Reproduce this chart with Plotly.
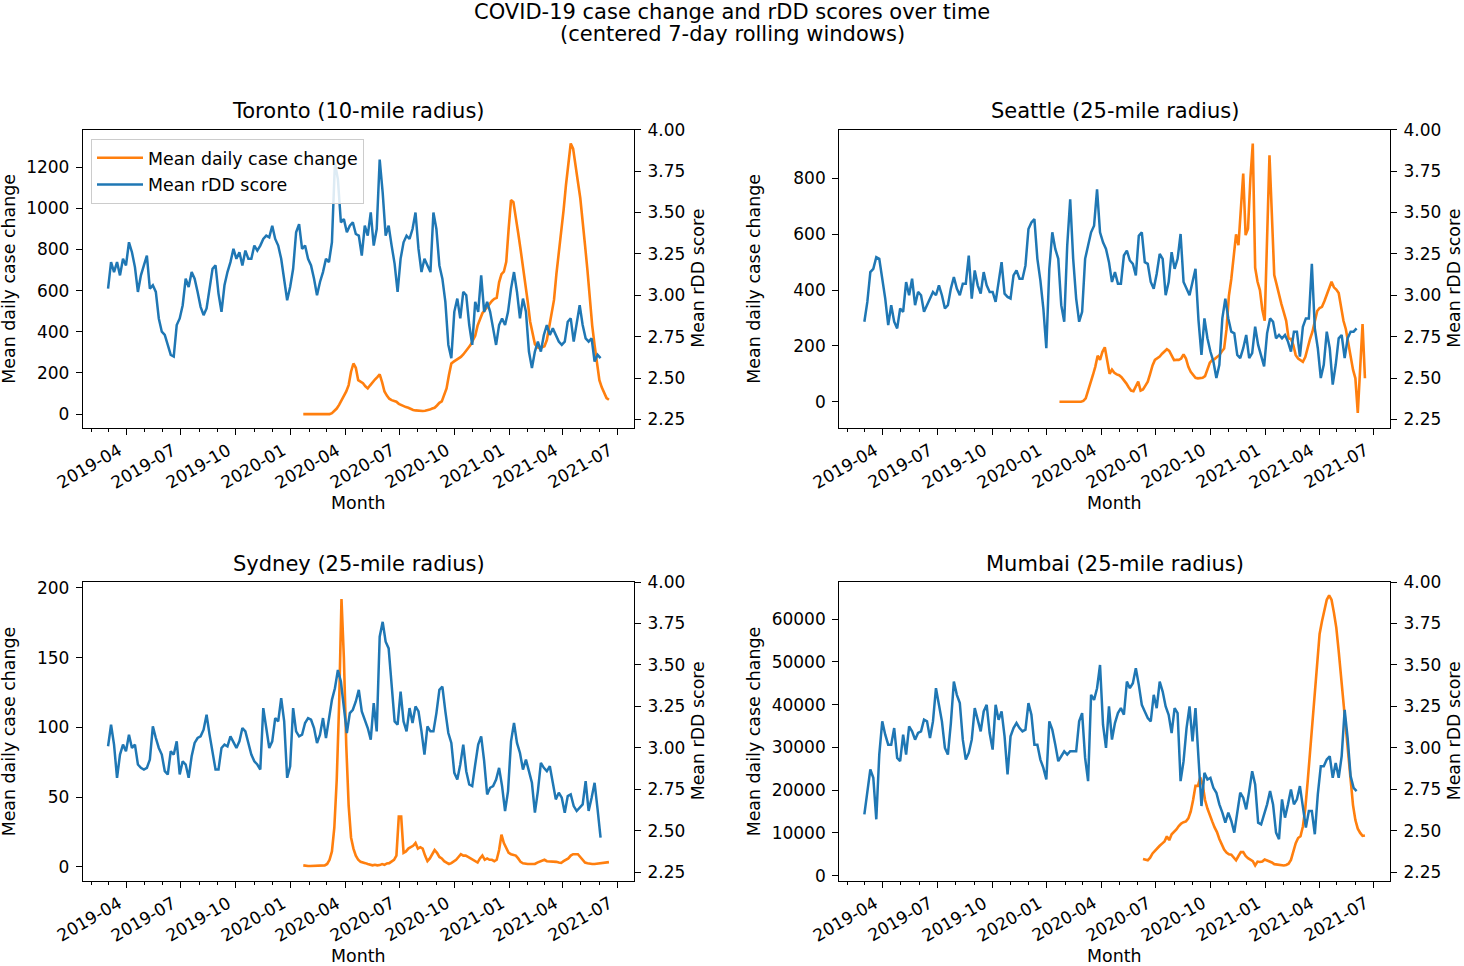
import pandas as pd
import plotly.graph_objects as go

# rDD score, one reading every 5 days (2019-03-01 .. 2021-06-03)
rdd_dates = pd.date_range("2019-03-01", periods=166, freq="5D")
# case change, one reading every 4 days (2020-01-22 .. 2021-06-17)
case_dates = pd.date_range("2020-01-22", periods=129, freq="4D")
mumbai_case_dates = case_dates[35:]

# 四半期ごとの目盛り
month_ticks = pd.date_range("2019-04-01", "2021-07-01", freq="QS")

toronto_rdd = [
    3.04, 3.20, 3.14, 3.20, 3.12, 3.22, 3.18, 3.32, 3.26, 3.17,
    3.02, 3.12, 3.18, 3.24, 3.04, 3.06, 3.02, 2.86, 2.78, 2.76,
    2.70, 2.64, 2.63, 2.82, 2.86, 2.94, 3.10, 3.05, 3.14, 3.10,
    3.02, 2.93, 2.88, 2.92, 3.04, 3.16, 3.18, 3.01, 2.90, 3.06,
    3.14, 3.20, 3.28, 3.22, 3.26, 3.18, 3.27, 3.22, 3.22, 3.30,
    3.27, 3.30, 3.34, 3.36, 3.35, 3.42, 3.34, 3.30, 3.22, 3.10,
    2.97, 3.05, 3.16, 3.38, 3.43, 3.28, 3.30, 3.22, 3.18, 3.10,
    3.00, 3.08, 3.14, 3.22, 3.20, 3.32, 3.80, 3.70, 3.44, 3.46,
    3.38, 3.42, 3.44, 3.37, 3.36, 3.24, 3.42, 3.36, 3.50, 3.30,
    3.40, 3.82, 3.62, 3.36, 3.42, 3.30, 3.19, 3.02, 3.22, 3.32,
    3.36, 3.34, 3.40, 3.50, 3.28, 3.14, 3.22, 3.18, 3.14, 3.50,
    3.40, 3.18, 3.10, 2.96, 2.70, 2.62, 2.90, 2.98, 2.86, 3.02,
    3.00, 2.82, 2.70, 2.96, 2.90, 3.12, 2.90, 2.96, 2.90, 2.80,
    2.70, 2.82, 2.86, 2.82, 2.90, 3.04, 3.14, 3.02, 2.86, 2.98,
    2.90, 2.66, 2.56, 2.66, 2.72, 2.66, 2.76, 2.82, 2.76, 2.80,
    2.76, 2.72, 2.70, 2.72, 2.84, 2.86, 2.72, 2.82, 2.94, 2.82,
    2.74, 2.72, 2.74, 2.60, 2.64, 2.62,
]
toronto_cases = [
    0, 0, 0, 0, 0, 0, 0, 0, 0, 0, 0, 0,
    5, 15, 27, 45, 65, 84, 110, 141, 206, 246,
    225, 165, 157, 150, 135, 125, 140, 157, 168, 180,
    193, 155, 110, 90, 75, 68, 63, 60, 50, 44,
    38, 34, 31, 25, 20, 18, 16, 15, 15, 16,
    18, 22, 27, 31, 42, 55, 62, 90, 125, 190,
    246, 255, 262, 270, 278, 290, 303, 320, 335, 355,
    380, 430, 465, 490, 505, 520, 540, 550, 560, 565,
    640, 680, 692, 740, 900, 1040, 1030, 944, 880, 800,
    720, 620, 546, 450, 390, 340, 325, 320, 325, 330,
    360, 420, 480, 555, 680, 780, 880, 990, 1113, 1230,
    1315, 1290, 1200, 1129, 1050, 950, 820, 700, 560, 430,
    335, 240, 165, 130, 100, 78, 70,
]

seattle_rdd = [
    2.84, 2.96, 3.14, 3.16, 3.23, 3.22, 3.10, 2.98, 2.82, 2.94,
    2.84, 2.80, 2.92, 2.90, 3.08, 3.00, 3.10, 2.94, 3.02, 3.00,
    2.90, 2.94, 2.98, 3.02, 3.00, 3.06, 3.00, 2.92, 2.94, 3.04,
    3.11, 3.04, 3.00, 3.07, 3.07, 3.24, 2.98, 3.15, 3.06, 3.01,
    3.14, 3.06, 3.02, 3.02, 2.96, 3.07, 3.20, 3.01, 2.99, 2.98,
    3.12, 3.15, 3.10, 3.10, 3.18, 3.40, 3.44, 3.46, 3.22, 3.09,
    2.92, 2.68, 3.16, 3.38, 3.28, 3.22, 2.94, 2.84, 3.30, 3.58,
    3.22, 2.98, 2.84, 2.90, 3.22, 3.30, 3.38, 3.42, 3.64, 3.38,
    3.32, 3.28, 3.20, 3.08, 3.14, 3.07, 3.07, 3.24, 3.27, 3.21,
    3.19, 3.12, 3.36, 3.38, 3.20, 3.19, 3.08, 3.04, 3.13, 3.25,
    3.22, 3.00, 3.08, 3.26, 3.16, 3.22, 3.37, 3.08, 3.04, 3.00,
    3.08, 3.16, 2.85, 2.64, 2.86, 2.74, 2.66, 2.60, 2.50, 2.58,
    2.86, 2.98, 2.86, 2.78, 2.77, 2.64, 2.62, 2.68, 2.76, 2.62,
    2.65, 2.81, 2.70, 2.64, 2.57, 2.77, 2.86, 2.84, 2.74, 2.76,
    2.74, 2.76, 2.72, 2.66, 2.78, 2.78, 2.63, 2.81, 2.86, 2.86,
    3.19, 2.80, 2.68, 2.50, 2.58, 2.78, 2.68, 2.46, 2.58, 2.74,
    2.76, 2.62, 2.74, 2.78, 2.78, 2.80,
]
seattle_cases = [
    0, 0, 0, 0, 0, 0, 0, 0, 0, 0,
    3, 12, 40, 72, 95, 125, 165, 150, 179, 195,
    145, 100, 115, 104, 98, 95, 88, 78, 66, 52,
    40, 38, 58, 72, 40, 44, 58, 72, 100, 130,
    150, 155, 162, 172, 179, 188, 182, 165, 149, 150,
    150, 155, 170, 155, 125, 107, 95, 86, 84, 84,
    86, 92, 115, 140, 149, 153, 160, 167, 180, 191,
    260, 380, 440, 530, 600, 561, 692, 818, 597, 620,
    800, 925, 480, 430, 400, 330, 290, 640, 883, 670,
    454, 420, 382, 350, 320, 290, 227, 225, 203, 167,
    155, 148, 143, 160, 195, 225, 251, 290, 325, 336,
    340, 360, 385, 405, 430, 410, 402, 390, 334, 290,
    260, 210, 155, 115, 84, -40, 120, 278, 84,
]

sydney_rdd = [
    3.01, 3.14, 3.02, 2.82, 2.96, 3.02, 2.98, 3.08, 3.00, 3.02,
    2.90, 2.88, 2.87, 2.88, 2.93, 3.13, 3.06, 3.00, 2.96, 2.86,
    2.84, 2.98, 2.96, 3.04, 2.84, 2.92, 2.90, 2.82, 2.95, 3.03,
    3.06, 3.07, 3.11, 3.20, 3.08, 2.97, 2.87, 2.87, 3.00, 3.02,
    3.01, 3.07, 3.03, 3.00, 3.04, 3.12, 3.10, 3.02, 2.96, 2.92,
    2.90, 2.87, 3.24, 3.12, 3.00, 3.04, 3.18, 3.16, 3.30, 3.16,
    2.82, 2.89, 3.24, 3.10, 3.07, 3.08, 3.15, 3.18, 3.17, 3.12,
    3.03, 3.08, 3.18, 3.06, 3.18, 3.29, 3.36, 3.47, 3.40, 3.26,
    3.09, 3.21, 3.23, 3.28, 3.35, 3.22, 3.17, 3.12, 3.05, 3.27,
    3.10, 3.67, 3.76, 3.64, 3.60, 3.35, 3.16, 3.14, 3.34, 3.16,
    3.10, 3.24, 3.15, 3.25, 3.22, 3.10, 2.96, 3.13, 3.10, 3.10,
    3.21, 3.35, 3.37, 3.22, 3.09, 3.03, 2.85, 2.81, 2.90, 3.02,
    2.86, 2.78, 2.77, 2.90, 3.02, 3.07, 2.92, 2.72, 2.76, 2.77,
    2.81, 2.88, 2.77, 2.62, 2.74, 3.04, 3.15, 3.03, 2.97, 2.87,
    2.93, 2.86, 2.79, 2.61, 2.74, 2.91, 2.88, 2.86, 2.89, 2.79,
    2.69, 2.73, 2.70, 2.61, 2.71, 2.72, 2.65, 2.62, 2.64, 2.66,
    2.80, 2.62, 2.70, 2.79, 2.63, 2.46,
]
sydney_cases = [
    1, 0.5, 0.5, 0.5, 0.5, 0.5, 0.5, 0.5, 0.5, 1,
    2, 5, 11, 28, 62, 116, 192, 150, 87, 44,
    21, 13, 8, 5, 3.5, 2.8, 2.6, 2, 1.5, 1,
    1.4, 1, 1.2, 1.9, 1.4, 2.4, 2.6, 3.8, 5, 8,
    36, 36, 10, 11, 13, 14, 15, 17, 13, 14,
    13, 8, 4, 6, 9, 12, 10, 7, 6, 4,
    3, 2, 2.6, 3.5, 5, 7, 9, 8, 8, 7,
    6, 5, 4, 3, 6, 8, 5, 6, 5, 5,
    4, 5, 12, 23, 17, 13, 10, 9, 8.5, 8,
    6, 3.5, 2.5, 2, 2, 2, 2, 2, 3, 3.5,
    4.5, 5, 4, 4, 4, 4, 3.5, 3, 2.7, 4,
    5, 6, 8, 9, 9, 9, 7, 5, 3, 2.5,
    2, 2, 2, 2.2, 2.6, 2.6, 3, 3.3, 3.3,
]

mumbai_rdd = [
    2.60, 2.74, 2.87, 2.82, 2.57, 2.96, 3.16, 3.08, 3.02, 3.02,
    3.12, 2.94, 2.92, 3.08, 2.96, 3.13, 3.10, 3.05, 3.09, 3.10,
    3.17, 3.16, 3.06, 3.16, 3.36, 3.26, 3.16, 3.00, 2.96, 3.15,
    3.40, 3.32, 3.27, 3.05, 2.93, 2.97, 3.05, 3.24, 3.16, 3.10,
    3.22, 3.26, 3.09, 2.99, 3.26, 3.17, 3.22, 3.07, 2.84, 3.07,
    3.12, 3.15, 3.12, 3.10, 3.11, 3.27, 3.20, 3.02, 3.02, 2.93,
    2.88, 2.81, 3.16, 3.11, 3.02, 2.92, 2.95, 2.98, 2.96, 2.98,
    2.98, 2.98, 3.16, 3.21, 2.94, 2.80, 3.32, 3.29, 3.36, 3.50,
    3.14, 3.00, 3.25, 3.05, 3.15, 3.21, 3.24, 3.20, 3.40, 3.36,
    3.39, 3.48, 3.38, 3.26, 3.22, 3.18, 3.16, 3.32, 3.24, 3.40,
    3.34, 3.25, 3.20, 3.09, 3.24, 3.21, 2.80, 2.92, 3.12, 3.25,
    3.04, 3.24, 2.94, 2.65, 2.85, 2.81, 2.82, 2.76, 2.73, 2.66,
    2.61, 2.55, 2.61, 2.56, 2.49, 2.61, 2.73, 2.70, 2.63, 2.74,
    2.86, 2.78, 2.55, 2.54, 2.60, 2.66, 2.74, 2.66, 2.49, 2.45,
    2.69, 2.58, 2.66, 2.75, 2.66, 2.69, 2.77, 2.63, 2.52, 2.62,
    2.62, 2.48, 2.72, 2.89, 2.89, 2.93, 2.95, 2.82, 2.91, 2.82,
    2.95, 3.23, 3.06, 2.83, 2.76, 2.74,
]
mumbai_cases = [
    3900, 3800, 3600, 4200, 5200, 5800, 6500, 7000, 7500, 8000,
    9200, 8300, 9700, 10200, 10800, 11600, 12200, 12500, 12700, 13400,
    15000, 17700, 21000, 21000, 23000, 21300, 17700, 15700, 14000, 12700,
    11300, 10200, 8600, 7200, 6100, 5400, 5000, 4900, 4200, 3600,
    4600, 5500, 5500, 4600, 4100, 3800, 3400, 2400, 3300, 3200,
    3300, 3800, 3600, 3300, 3100, 2700, 2600, 2500, 2400, 2400,
    2500, 2800, 3700, 6000, 7600, 8800, 9200, 11500, 15700, 22000,
    29000, 36000, 43000, 51000, 56500, 59500, 62000, 64500, 65500, 64500,
    61500, 58000, 52500, 46500, 40000, 33500, 27000, 21000, 16500, 13000,
    11000, 10000, 9300, 9400,
]

rdd_ticks = [2.25, 2.50, 2.75, 3.00, 3.25, 3.50, 3.75, 4.00]

BLUE = "#1f77b4"
ORANGE = "#ff7f0e"
W, H = 1464, 966
FONT = "DejaVu Sans"
TICK_SIZE = 17
LABEL_SIZE = 17.4
TITLE_SIZE = 21


def px_x(x):
    return x / W


def px_y(y):
    return 1 - y / H


def axis_style():
    return dict(
        showline=True, linecolor="black", linewidth=1.3,
        ticks="outside", ticklen=6, tickwidth=1.3, tickcolor="black",
        ticklabelstandoff=3, automargin=False,
        showgrid=False, zeroline=False,
        tickfont=dict(family=FONT, size=TICK_SIZE, color="black"),
    )


def add_panel(fig, n, title, cases, c_dates, rdd, case_ticks, case_range,
              box, ylab_x, legend=False):
    """1つの都市のパネル（左: 症例数, 右: rDDスコア）"""
    x0, y0, x1, y1 = box
    xa = "x" if n == 1 else f"x{n}"
    yl = "y" if n == 1 else f"y{2 * n - 1}"
    yr = f"y{2 * n}"

    fig.add_trace(go.Scatter(
        x=c_dates, y=cases, mode="lines", xaxis=xa, yaxis=yl,
        line=dict(color=ORANGE, width=2.6), name="Mean daily case change",
        showlegend=legend, legendgroup="cases",
    ))
    fig.add_trace(go.Scatter(
        x=rdd_dates, y=rdd, mode="lines", xaxis=xa, yaxis=yr,
        line=dict(color=BLUE, width=2.5), name="Mean rDD score",
        showlegend=legend, legendgroup="rdd",
    ))

    xkey = "xaxis" if n == 1 else f"xaxis{n}"
    ylkey = "yaxis" if n == 1 else f"yaxis{2 * n - 1}"
    yrkey = f"yaxis{2 * n}"

    fig.layout[xkey] = dict(
        axis_style(), domain=[px_x(x0), px_x(x1)], anchor=yl, type="date",
        range=["2019-01-18", "2021-07-29"], mirror=True,
        tickmode="array", tickvals=month_ticks, showticklabels=False,
        minor=dict(dtick="M1", tick0="2019-01-01", ticks="outside",
                   ticklen=3.5, tickwidth=1.1, tickcolor="black",
                   showgrid=False),
    )
    fig.layout[ylkey] = dict(
        axis_style(), domain=[px_y(y1), px_y(y0)], anchor=xa,
        range=case_range, tickmode="array", tickvals=case_ticks,
        tickformat="d",
    )
    fig.layout[yrkey] = dict(
        axis_style(), domain=[px_y(y1), px_y(y0)], anchor=xa,
        overlaying=yl, side="right", range=[2.2, 4.0],
        tickmode="array", tickvals=rdd_ticks,
        ticktext=[f"{t:.2f}" for t in rdd_ticks],
    )

    # 斜めの日付ラベル（右端を目盛りに揃える）
    for t in month_ticks:
        fig.add_annotation(
            x=t, y=px_y(y1 + 11), xref=xa, yref="paper",
            text=t.strftime("%Y-%m"), showarrow=False, textangle=-30,
            xanchor="right", yanchor="top", borderpad=0,
            font=dict(family=FONT, size=TICK_SIZE, color="black"),
        )

    cx = (x0 + x1) / 2
    cy = (y0 + y1) / 2
    notes = [
        (cx, y0 - 18.5, title, 0, TITLE_SIZE),
        (cx, y1 + 75.5, "Month", 0, LABEL_SIZE),
        (ylab_x, cy, "Mean daily case change", -90, LABEL_SIZE),
        (x1 + 64, cy, "Mean rDD score", -90, LABEL_SIZE),
    ]
    for ax_, ay_, text, ang, size in notes:
        fig.add_annotation(
            x=px_x(ax_), y=px_y(ay_), xref="paper", yref="paper",
            text=text, showarrow=False, textangle=ang,
            xanchor="center", yanchor="middle", borderpad=0,
            font=dict(family=FONT, size=size, color="black"),
        )


fig = go.Figure()

add_panel(fig, 1, "Toronto (10-mile radius)", toronto_cases, case_dates,
          toronto_rdd, [0, 200, 400, 600, 800, 1000, 1200], [-66, 1382],
          (83, 129.7, 634, 427.7), 9, legend=True)
add_panel(fig, 2, "Seattle (25-mile radius)", seattle_cases, case_dates,
          seattle_rdd, [0, 200, 400, 600, 800], [-93, 975],
          (839.3, 129.7, 1390, 427.7), 754)
add_panel(fig, 3, "Sydney (25-mile radius)", sydney_cases, case_dates,
          sydney_rdd, [0, 50, 100, 150, 200], [-10, 204.2],
          (83, 582, 634, 880.7), 9)
add_panel(fig, 4, "Mumbai (25-mile radius)", mumbai_cases, mumbai_case_dates,
          mumbai_rdd, [0, 10000, 20000, 30000, 40000, 50000, 60000],
          [-1169, 68654], (839.3, 582, 1390, 880.7), 754)

# 全体タイトル
for yy, text in [(12.5, "COVID-19 case change and rDD scores over time"),
                 (34.5, "(centered 7-day rolling windows)")]:
    fig.add_annotation(
        x=0.5, y=px_y(yy), xref="paper", yref="paper", text=text,
        showarrow=False, xanchor="center", yanchor="middle", borderpad=0,
        font=dict(family=FONT, size=TITLE_SIZE, color="black"),
    )

fig.update_layout(
    width=W, height=H, autosize=False,
    margin=dict(l=0, r=0, t=0, b=0, pad=0, autoexpand=False),
    paper_bgcolor="white", plot_bgcolor="white",
    font=dict(family=FONT, size=TICK_SIZE, color="black"),
    legend=dict(
        x=px_x(91), y=px_y(139), xanchor="left", yanchor="top",
        bgcolor="rgba(255,255,255,0.85)", bordercolor="#cccccc",
        borderwidth=1, font=dict(family=FONT, size=LABEL_SIZE, color="black"),
        tracegroupgap=1, itemwidth=46,
    ),
)

# ページの余白を消して図をウィンドウ左上に合わせる
fig.write_html(
    "out.html",
    config={"displayModeBar": False, "responsive": False},
    post_script="document.body.style.margin='0';"
                "document.body.style.overflow='hidden';",
)
